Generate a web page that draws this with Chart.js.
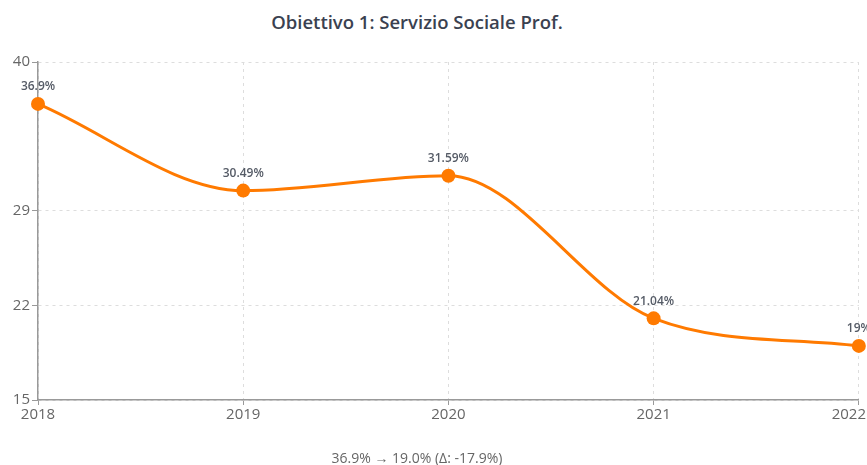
<!DOCTYPE html>
<html>
<head>
<meta charset="utf-8">
<script src="https://cdn.jsdelivr.net/npm/chart.js@4"></script>
<style>
    html, body { margin: 0; padding: 0; background: #fff; overflow: hidden; }
    #wrap { position: relative; width: 867px; height: 465px; overflow: hidden; }
    #chart { position: absolute; left: 0; top: 0; }
    .title {
        position: absolute; left: 0; top: 9px; width: 834px; text-align: center;
        font: 600 18.5px 'Open Sans', sans-serif; color: #3a4150;
    }
    .footer {
        position: absolute; left: 0; top: 448px; width: 834px; text-align: center;
        font: 14px 'Open Sans', sans-serif; color: #666;
    }
</style>
</head>
<body>
<div id="wrap">
    <div class="title">Obiettivo 1: Servizio Sociale Prof.</div>
    <canvas id="chart" width="877" height="465"></canvas>
    <div class="footer" id="footer"></div>
</div>
<script>
// ── data ──
const YEARS = ['2018', '2019', '2020', '2021', '2022'];
const SHARE = [36.9, 30.49, 31.59, 21.04, 19];
const Y_TICKS = [15, 22, 29, 40];

const LINE_COLOR = '#ff7a00';
const FONT = "'Open Sans', sans-serif";
const TICK_COLOR = '#666';
const VIEW_W = 867;

// footer summary from first/last values
const first = SHARE[0], last = SHARE[SHARE.length - 1];
document.getElementById('footer').textContent =
    `${first.toFixed(1)}% → ${last.toFixed(1)}% (Δ: ${(last - first).toFixed(1)}%)`;

// value labels above each point, plus the last year label pushed in from the edge
const pointLabels = {
    id: 'pointLabels',
    afterDatasetsDraw(chart) {
        const { ctx } = chart;
        const meta = chart.getDatasetMeta(0);
        ctx.save();
        ctx.font = `600 12px ${FONT}`;
        ctx.fillStyle = '#555b66';
        ctx.textAlign = 'center';
        ctx.textBaseline = 'middle';
        meta.data.forEach((pt, i) => {
            ctx.fillText(SHARE[i] + '%', pt.x, pt.y - 17);
        });

        const xs = chart.scales.x;
        ctx.font = `15px ${FONT}`;
        ctx.fillStyle = TICK_COLOR;
        ctx.textAlign = 'right';
        ctx.fillText(YEARS[YEARS.length - 1], VIEW_W - 1, xs.top + 5 + 1 + 9);
        ctx.restore();
    },
};

new Chart(document.getElementById('chart'), {
    type: 'line',
    data: {
        labels: YEARS,
        datasets: [{
            data: SHARE,
            borderColor: LINE_COLOR,
            backgroundColor: LINE_COLOR,
            borderWidth: 3,
            pointRadius: 7,
            pointHoverRadius: 7,
            pointBorderWidth: 0,
            cubicInterpolationMode: 'monotone',
            clip: false,
        }],
    },
    options: {
        responsive: false,
        animation: false,
        layout: { autoPadding: false, padding: { top: 62, right: 7, bottom: 0, left: 0 } },
        plugins: {
            legend: { display: false },
            tooltip: { enabled: false },
        },
        scales: {
            x: {
                afterFit: s => { s.height = 65; },
                ticks: {
                    font: { family: FONT, size: 15 },
                    color: c => (c.index === YEARS.length - 1 ? 'rgba(0,0,0,0)' : TICK_COLOR),
                    padding: 1,
                    maxRotation: 0,
                },
                grid: { color: '#ddd', tickColor: '#999', tickLength: 5 },
                border: { color: '#999', width: 1.5, dash: [3, 4] },
            },
            y: {
                min: 15,
                max: 40,
                afterFit: s => { s.width = 38; },
                afterBuildTicks: s => { s.ticks = Y_TICKS.map(v => ({ value: v })); },
                ticks: { font: { family: FONT, size: 15 }, color: TICK_COLOR, padding: 2 },
                grid: { color: '#ddd', tickColor: '#999', tickLength: 6 },
                border: { color: '#999', width: 1.5, dash: [3, 4] },
            },
        },
    },
    plugins: [pointLabels],
});
</script>
</body>
</html>
